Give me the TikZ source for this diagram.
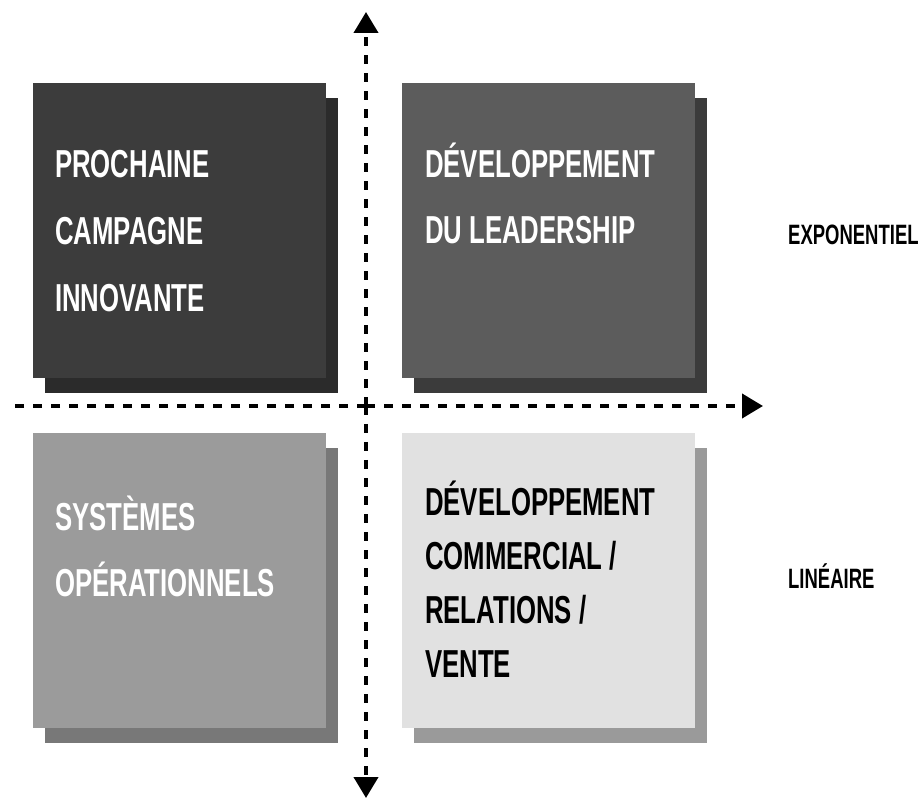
\documentclass[tikz,border=0pt]{standalone}
\usepackage{fontspec}
\setmainfont{Liberation Sans}[FakeStretch=0.66]
\usetikzlibrary{arrows.meta}
\definecolor{tlf}{HTML}{3C3C3C}
\definecolor{tls}{HTML}{2B2B2B}
\definecolor{trf}{HTML}{5C5C5C}
\definecolor{trs}{HTML}{3B3B3B}
\definecolor{blf}{HTML}{9B9B9B}
\definecolor{bls}{HTML}{787878}
\definecolor{brf}{HTML}{E1E1E1}
\definecolor{brs}{HTML}{9A9A9A}
\tikzset{
  quad/.style={rectangle, anchor=north west, inner sep=0pt, minimum width=293pt, minimum height=295pt},
  shade/.style={quad},
  big/.style={anchor=base west, inner sep=0pt, font=\fontsize{39}{39}\selectfont\bfseries},
  side/.style={anchor=base west, inner sep=0pt, font=\fontsize{28}{28}\selectfont\bfseries},
  axis/.style={line width=4pt, dash pattern=on 9pt off 9pt, -{Triangle[length=21pt,width=24pt]}},
}
\begin{document}
\begin{tikzpicture}[x=1pt, y=-1pt]
\useasboundingbox (0,0) rectangle (924,799);
% shadows
\node[shade, fill=tls] (s1) at (45,98) {};
\node[shade, fill=trs] (s2) at (414,98) {};
\node[shade, fill=bls] (s3) at (45,448) {};
\node[shade, fill=brs] (s4) at (414,448) {};
% fronts
\node[quad, fill=tlf] (q1) at (33,83) {};
\node[quad, fill=trf] (q2) at (402,83) {};
\node[quad, fill=blf] (q3) at (33,433) {};
\node[quad, fill=brf] (q4) at (402,433) {};
% axes
\coordinate (vtop) at (366,12);
\coordinate (vbot) at (366,798);
\coordinate (hl) at (10,406);
\coordinate (hr) at (763,406);
\coordinate (c) at (366,406);
\draw[axis] (c) -- (vtop);
\draw[axis] (c) -- (vbot);
\draw[axis] (c) -- (hr);
\draw[line width=4pt, dash pattern=on 9pt off 9pt] (c) -- (hl);
% texts
\node[big, white] (a1) at (55,178) {PROCHAINE};
\node[big, white] (a2) at (55,245) {CAMPAGNE};
\node[big, white] (a3) at (55,312) {INNOVANTE};
\node[big, white] (b1) at (425,178) {DÉVELOPPEMENT};
\node[big, white] (b2) at (425,244) {DU LEADERSHIP};
\node[big, white] (c1) at (55,530) {SYSTÈMES};
\node[big, white] (c2) at (55,596) {OPÉRATIONNELS};
\node[big, black] (d1) at (425,515) {DÉVELOPPEMENT};
\node[big, black] (d2) at (425,569) {COMMERCIAL /};
\node[big, black] (d3) at (425,623) {RELATIONS /};
\node[big, black] (d4) at (425,677) {VENTE};
\node[side] (e1) at (788,245) {EXPONENTIEL};
\node[side] (e2) at (788,588) {LINÉAIRE};
\end{tikzpicture}
\end{document}
